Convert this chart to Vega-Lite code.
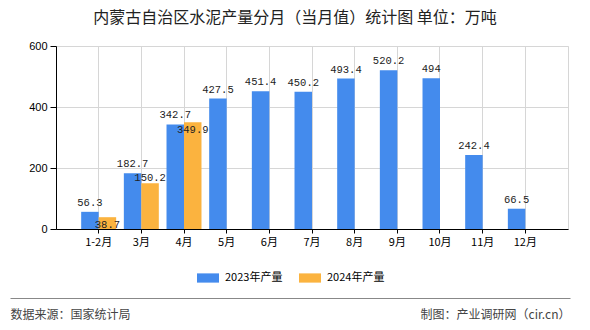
{
  "$schema": "https://vega.github.io/schema/vega-lite/v6.json",
  "width": 512,
  "height": 183,
  "autosize": {"type": "none"},
  "padding": {"left": 56, "top": 46, "right": 22, "bottom": 101},
  "background": "white",
  "title": {
    "text": "内蒙古自治区水泥产量分月（当月值）统计图 单位：万吨",
    "anchor": "middle",
    "fontSize": 16,
    "fontWeight": "normal",
    "font": "Noto Sans CJK SC",
    "color": "#222",
    "dx": -17,
    "offset": 14
  },
  "config": {
    "view": {"stroke": "#d6d6d6"},
    "font": "Noto Sans CJK SC"
  },
  "datasets": {
    "bars": [
      {"month": "1-2月", "series": "2023年产量", "value": 56.3},
      {"month": "3月", "series": "2023年产量", "value": 182.7},
      {"month": "4月", "series": "2023年产量", "value": 342.7},
      {"month": "5月", "series": "2023年产量", "value": 427.5},
      {"month": "6月", "series": "2023年产量", "value": 451.4},
      {"month": "7月", "series": "2023年产量", "value": 450.2},
      {"month": "8月", "series": "2023年产量", "value": 493.4},
      {"month": "9月", "series": "2023年产量", "value": 520.2},
      {"month": "10月", "series": "2023年产量", "value": 494},
      {"month": "11月", "series": "2023年产量", "value": 242.4},
      {"month": "12月", "series": "2023年产量", "value": 66.5},
      {"month": "1-2月", "series": "2024年产量", "value": 38.7},
      {"month": "3月", "series": "2024年产量", "value": 150.2},
      {"month": "4月", "series": "2024年产量", "value": 349.9}
    ],
    "footer": [
      {"pos": 0, "text": "数据来源：国家统计局"},
      {"pos": 1, "text": "制图：产业调研网（cir.cn）"}
    ]
  },
  "layer": [
    {
      "data": {"name": "bars"},
      "encoding": {
        "x": {
          "field": "month",
          "type": "nominal",
          "sort": ["1-2月","3月","4月","5月","6月","7月","8月","9月","10月","11月","12月"],
          "scale": {"paddingInner": 0, "paddingOuter": 0.5},
          "axis": {
            "title": null,
            "labelAngle": 0,
            "bandPosition": 0.5,
            "grid": true,
            "gridColor": "#d6d6d6",
            "domainColor": "#000",
            "tickColor": "#000",
            "tickSize": 4,
            "labelPadding": 3,
            "labelFontSize": 11,
            "labelColor": "#000",
            "labelFont": "Noto Sans CJK SC"
          }
        },
        "xOffset": {
          "field": "series",
          "type": "nominal",
          "scale": {"domain": ["2023年产量", "2024年产量"], "paddingInner": 0, "paddingOuter": 0.22}
        },
        "y": {
          "field": "value",
          "type": "quantitative",
          "scale": {"domain": [0, 600]},
          "axis": {
            "title": null,
            "values": [0, 200, 400, 600],
            "grid": true,
            "gridColor": "#d6d6d6",
            "domainColor": "#000",
            "tickColor": "#000",
            "tickSize": 6,
            "labelPadding": 3,
            "labelFontSize": 11,
            "labelColor": "#000",
            "labelFont": "Liberation Sans"
          }
        }
      },
      "layer": [
        {
          "mark": {"type": "bar"},
          "encoding": {
            "color": {
              "field": "series",
              "type": "nominal",
              "scale": {"domain": ["2023年产量", "2024年产量"], "range": ["#448bed", "#fbb33f"]},
              "legend": {
                "title": null,
                "orient": "none",
                "direction": "horizontal",
                "legendX": 141,
                "legendY": 221,
                "padding": 0,
                "symbolType": "M-1,-0.42H1V0.42H-1Z",
                "symbolSize": 484,
                "symbolStrokeWidth": 0,
                "labelFontSize": 11,
                "labelColor": "#000",
                "labelFont": "Noto Sans CJK SC",
                "labelOffset": 6,
                "columnPadding": 16
              }
            }
          }
        },
        {
          "transform": [{"filter": "datum.series == '2023年产量'"}],
          "mark": {"type": "text", "baseline": "bottom", "dy": -4, "font": "Liberation Mono", "fontSize": 10.5, "color": "#222"},
          "encoding": {"text": {"field": "value", "type": "quantitative"}}
        },
        {
          "transform": [{"filter": "datum.series == '2024年产量' && datum.month == '3月'"}],
          "mark": {"type": "text", "baseline": "bottom", "dy": 0, "font": "Liberation Mono", "fontSize": 10.5, "color": "#222"},
          "encoding": {"text": {"field": "value", "type": "quantitative"}}
        },
        {
          "transform": [{"filter": "datum.series == '2024年产量' && datum.month != '3月'"}],
          "mark": {"type": "text", "baseline": "top", "dy": 3, "font": "Liberation Mono", "fontSize": 10.5, "color": "#222"},
          "encoding": {"text": {"field": "value", "type": "quantitative"}}
        }
      ]
    },
    {
      "data": {"name": "footer"},
      "mark": {"type": "rule", "opacity": 0},
      "encoding": {
        "x": {
          "field": "pos",
          "type": "quantitative",
          "scale": {"domain": [0, 1], "range": [-46, 514], "nice": false, "zero": false},
          "axis": {
            "orient": "bottom",
            "offset": 69,
            "title": null,
            "values": [0, 1],
            "grid": false,
            "ticks": false,
            "domainColor": "#888",
            "domainWidth": 1.2,
            "labelFlush": true,
            "labelPadding": 11,
            "labelFontSize": 12,
            "labelColor": "#444",
            "labelFont": "Noto Sans CJK SC",
            "labelExpr": "datum.value == 0 ? '数据来源：国家统计局' : '制图：产业调研网（cir.cn）'"
          }
        }
      }
    }
  ],
  "resolve": {"scale": {"x": "independent"}, "axis": {"x": "independent"}}
}
